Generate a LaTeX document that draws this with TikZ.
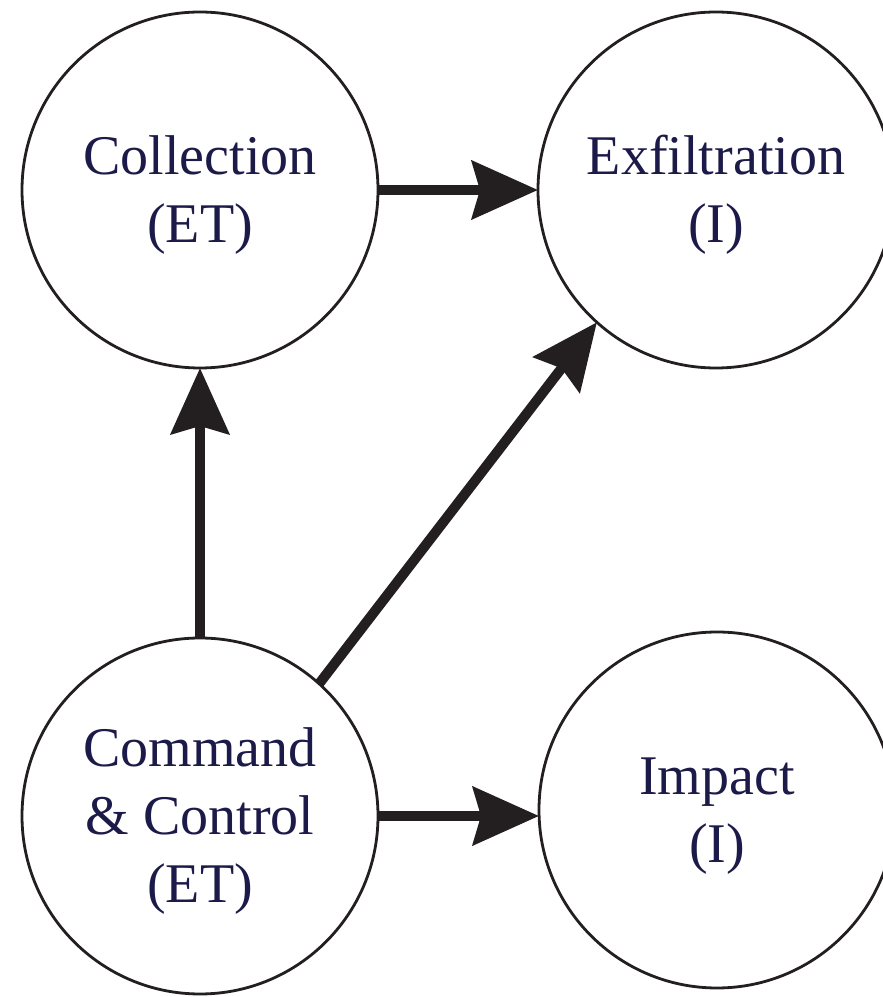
\documentclass[tikz,border=0pt]{standalone}
\usepackage{fontspec}
\setmainfont{Liberation Serif}
\usetikzlibrary{arrows.meta}
\definecolor{inkblack}{HTML}{231F20}
\definecolor{labelnavy}{HTML}{1C1A48}
% stage label: centred lines, set slightly below the circle's centre
\newcommand{\stagelabel}[1]{\raisebox{-2.5pt}[\height][\depth]{%
  \begin{tabular}{@{}c@{}}#1\end{tabular}}}
\begin{document}
\begin{tikzpicture}[x=0.5pt,y=0.5pt,
  stage/.style={circle, draw=inkblack, line width=1.4pt, minimum size=178pt,
    inner sep=0pt, outer sep=0pt, text=labelnavy,
    font=\fontsize{28}{34}\selectfont},
  flow/.style={draw=inkblack, line width=5pt,
    -{Stealth[length=33pt,width=29pt,inset=4pt]}}]
\useasboundingbox (0,0) rectangle (883,997);
% attack stages
\node[stage] (col) at (200,807) {\stagelabel{Collection\\(ET)}};
\node[stage] (exf) at (716,807) {\stagelabel{Exfiltration\\(I)}};
\node[stage] (cc)  at (200,181) {\stagelabel{Command\\\& Control\\(ET)}};
\node[stage] (imp) at (717,187) {\stagelabel{Impact\\(I)}};
% transitions
\draw[flow] (col.east) -- (exf.west);
\draw[flow] (cc.north) -- (col.south);
\draw[flow] (cc.48) -- (exf.228);
\draw[flow] (cc.east) -- (cc.east -| imp.west);
\end{tikzpicture}
\end{document}
